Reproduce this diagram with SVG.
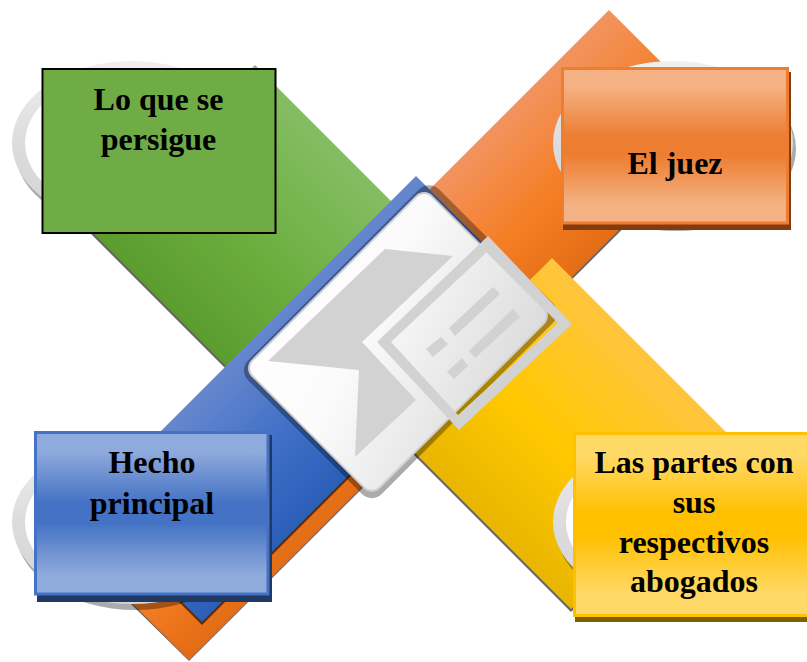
<svg xmlns="http://www.w3.org/2000/svg" width="807" height="662" viewBox="0 0 807 662">
<style>
text{font-family:"Liberation Serif","Times New Roman",serif;font-weight:bold;font-size:32px;fill:#000;text-anchor:middle}
.bs{fill:#000;fill-opacity:.6}
.rs{fill:#000;fill-opacity:.33}
.ro{fill:url(#ring)}
.ri{fill:#fff}
.g{fill:#d1d2d1}
</style>
<defs>
<linearGradient id="gGreen" gradientUnits="userSpaceOnUse" x1="330" y1="140" x2="165" y2="305"><stop offset="0" stop-color="#85bd64"/><stop offset=".55" stop-color="#6cae3e"/><stop offset="1" stop-color="#5b9c2e"/></linearGradient>
<linearGradient id="gOrange" gradientUnits="userSpaceOnUse" x1="550" y1="69" x2="665" y2="185"><stop offset="0" stop-color="#f29460"/><stop offset=".55" stop-color="#f57e25"/><stop offset="1" stop-color="#e46c14"/></linearGradient>
<linearGradient id="gBlue" gradientUnits="userSpaceOnUse" x1="250" y1="342" x2="366" y2="458"><stop offset="0" stop-color="#6687ce"/><stop offset=".55" stop-color="#3f6fc6"/><stop offset="1" stop-color="#2a5fb8"/></linearGradient>
<linearGradient id="gYellow" gradientUnits="userSpaceOnUse" x1="640" y1="346" x2="475" y2="511"><stop offset="0" stop-color="#ffc540"/><stop offset=".55" stop-color="#ffc800"/><stop offset="1" stop-color="#e8b600"/></linearGradient>
<linearGradient id="ring" x1="0" y1="0" x2="0" y2="1"><stop offset="0" stop-color="#f0f0f0"/><stop offset=".5" stop-color="#dcdcdc"/><stop offset="1" stop-color="#d4d4d4"/></linearGradient>
<linearGradient id="card" gradientUnits="userSpaceOnUse" x1="340" y1="200" x2="440" y2="490"><stop offset="0" stop-color="#fff"/><stop offset=".38" stop-color="#fbfbfb"/><stop offset="1" stop-color="#d6d6d6"/></linearGradient>
<linearGradient id="bxO" x1="0" y1="0" x2="0" y2="1"><stop offset="0" stop-color="#f4b183"/><stop offset=".12" stop-color="#f4b183"/><stop offset=".44" stop-color="#ed7d31"/><stop offset=".56" stop-color="#ed7d31"/><stop offset=".88" stop-color="#f4b183"/><stop offset="1" stop-color="#f4b183"/></linearGradient>
<linearGradient id="bxB" x1="0" y1="0" x2="0" y2="1"><stop offset="0" stop-color="#8faadc"/><stop offset=".12" stop-color="#8faadc"/><stop offset=".44" stop-color="#4472c4"/><stop offset=".56" stop-color="#4472c4"/><stop offset=".88" stop-color="#8faadc"/><stop offset="1" stop-color="#8faadc"/></linearGradient>
<linearGradient id="bxY" x1="0" y1="0" x2="0" y2="1"><stop offset="0" stop-color="#ffd966"/><stop offset=".12" stop-color="#ffd966"/><stop offset=".44" stop-color="#ffc000"/><stop offset=".56" stop-color="#ffc000"/><stop offset=".88" stop-color="#ffd966"/><stop offset="1" stop-color="#ffd966"/></linearGradient>
</defs>

<g id="bands">
<polygon class="bs" transform="translate(0,3)" points="255,65 460,270 250,390 90,230"/>
<polygon fill="url(#gGreen)" points="255,65 460,270 255,395 90,230"/>
<polygon class="bs" transform="translate(0,3)" points="609,10 724,125 189,658 74,545"/>
<polygon fill="url(#gOrange)" points="609,10 724,125 189,660 74,545"/>
<polygon class="bs" transform="translate(0,3)" points="416,176 532,292 202,622 86,506"/>
<polygon fill="url(#gBlue)" points="416,176 532,292 202,622 86,506"/>
<polygon class="bs" transform="translate(0,3)" points="552,258 737,443 571,609 386,424"/>
<polygon fill="url(#gYellow)" points="552,258 737,443 571,609 386,424"/>
</g>

<g id="center">
<rect x="265" y="249" width="270" height="189" rx="14" transform="rotate(-45 398 342)" fill="#000" fill-opacity=".33"/>
<rect x="271" y="252" width="254" height="180" rx="11" transform="rotate(-45 398 342)" fill="url(#card)" stroke="#cfcfcf" stroke-width="2"/>
<polygon class="g" points="385,249 453,256 362,342 416,400 355,457 359,370 268,361"/>
<path class="g" fill-rule="evenodd" d="M488,236 572,324 459,430 377,342Z M487,252 391,342 458,415 558,323Z"/>
<polygon class="g" points="493,287 500,294 455,336 449,328"/>
<polygon class="g" points="513,309 520,317 475,358 469,351"/>
<polygon class="g" points="441,337 448,344 433,357 426,349"/>
<polygon class="g" points="462,358 468,366 454,379 447,372"/>
</g>

<g id="node-persigue">
<ellipse class="rs" cx="135" cy="149" rx="120" ry="82"/>
<ellipse class="ro" cx="132" cy="143" rx="120" ry="82"/>
<ellipse class="ri" cx="133" cy="143" rx="108" ry="72"/>
<rect x="42.500" y="69" width="233" height="164" fill="#6fac46" stroke="#000" stroke-width="2"/>
<text x="158.500" y="110">Lo que se</text>
<text x="158.500" y="150">persigue</text>
</g>

<g id="node-juez">
<ellipse class="rs" cx="676" cy="149" rx="120" ry="82"/>
<ellipse class="ro" cx="673" cy="143" rx="120" ry="82"/>
<ellipse class="ri" cx="674" cy="143" rx="108" ry="72"/>
<rect x="563" y="72" width="228" height="158" fill="#843c0c"/>
<rect x="562.500" y="68.500" width="225" height="154.500" fill="url(#bxO)" stroke="#ed7d31" stroke-width="3"/>
<text x="675" y="174">El juez</text>
</g>

<g id="node-hecho">
<ellipse class="rs" cx="135" cy="528" rx="120" ry="82"/>
<ellipse class="ro" cx="132" cy="522" rx="120" ry="82"/>
<ellipse class="ri" cx="133" cy="522" rx="108" ry="72"/>
<rect x="37" y="435" width="235" height="167" fill="#1f3864"/>
<rect x="35.500" y="432.500" width="232.500" height="161.500" fill="url(#bxB)" stroke="#4472c4" stroke-width="3"/>
<text x="152" y="473">Hecho</text>
<text x="152" y="514">principal</text>
</g>

<g id="node-partes">
<ellipse class="rs" cx="676" cy="528" rx="120" ry="82"/>
<ellipse class="ro" cx="673" cy="522" rx="120" ry="82"/>
<ellipse class="ri" cx="674" cy="522" rx="108" ry="72"/>
<rect x="575" y="437" width="240" height="185" fill="#7f6000"/>
<rect x="574.500" y="433.500" width="236" height="182" fill="url(#bxY)" stroke="#ffc000" stroke-width="3"/>
<text x="694" y="473">Las partes con</text>
<text x="694" y="513">sus</text>
<text x="694" y="553">respectivos</text>
<text x="694" y="592">abogados</text>
</g>
</svg>
